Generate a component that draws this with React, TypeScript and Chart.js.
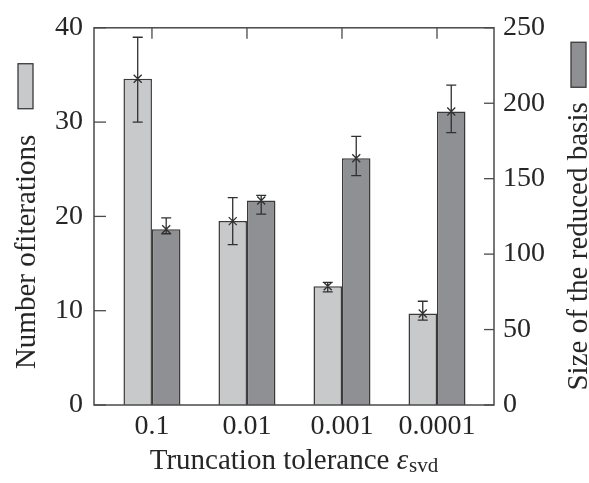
import React, { useEffect, useRef } from 'react';
import { Chart, registerables } from 'chart.js';

Chart.register(...registerables);

const categories = ['0.1', '0.01', '0.001', '0.0001'];
const iterMean = [34.6, 19.5, 12.6, 9.7];
const iterLow = [30.0, 17.0, 12.0, 9.0];
const iterHigh = [39.0, 22.0, 13.0, 11.0];
const basisMean = [116.5, 135.5, 163.5, 194.5];
const basisLow = [113.5, 126.5, 152.0, 180.5];
const basisHigh = [124.0, 139.0, 178.0, 212.0];

const leftTitle = 'Number ofiterations';
const rightTitle = 'Size of the reduced basis';
const xTitleMain = 'Truncation tolerance ';
const xTitleSym = 'ε';
const xTitleSub = 'svd';

const FONT = '"Liberation Serif", "Times New Roman", serif';
const TEXT = '#262626';
const AXIS = '#4a4a4a';
const LIGHT = '#c8c9cb';
const DARK = '#8f9094';
const EDGE = '#3a3a3a';
const FS = 28;
const TFS = 29;

const errors = [
  { low: iterLow, high: iterHigh },
  { low: basisLow, high: basisHigh },
];

const decorPlugin = {
  id: 'decor',
  afterDatasetsDraw(chart: any) {
    const ctx = chart.ctx as CanvasRenderingContext2D;
    const ca = chart.chartArea;
    ctx.save();

    // frame
    ctx.strokeStyle = AXIS;
    ctx.lineWidth = 1.5;
    ctx.strokeRect(ca.left, ca.top, ca.right - ca.left, ca.bottom - ca.top);

    // inward ticks
    ctx.lineWidth = 1.3;
    const yL = chart.scales.y;
    yL.ticks.forEach((t: any) => {
      const y = yL.getPixelForValue(t.value);
      ctx.beginPath();
      ctx.moveTo(ca.left, y);
      ctx.lineTo(ca.left + 12, y);
      ctx.stroke();
    });
    const yR = chart.scales.y2;
    yR.ticks.forEach((t: any) => {
      const y = yR.getPixelForValue(t.value);
      ctx.beginPath();
      ctx.moveTo(ca.right, y);
      ctx.lineTo(ca.right - 10, y);
      ctx.stroke();
    });
    const xs = chart.scales.x;
    xs.ticks.forEach((t: any) => {
      const x = xs.getPixelForValue(t.value);
      ctx.beginPath();
      ctx.moveTo(x, ca.top);
      ctx.lineTo(x, ca.top + 11);
      ctx.stroke();
    });

    // error bars with x markers
    ctx.strokeStyle = '#303030';
    ctx.lineWidth = 1.3;
    chart.data.datasets.forEach((ds: any, d: number) => {
      const meta = chart.getDatasetMeta(d);
      const ys = chart.scales[meta.yAxisID];
      meta.data.forEach((bar: any, j: number) => {
        const x = bar.x;
        const yl = ys.getPixelForValue(errors[d].low[j]);
        const yh = ys.getPixelForValue(errors[d].high[j]);
        const ym = ys.getPixelForValue(ds.data[j].y);
        ctx.beginPath();
        ctx.moveTo(x, yl);
        ctx.lineTo(x, yh);
        ctx.moveTo(x - 5, yl);
        ctx.lineTo(x + 5, yl);
        ctx.moveTo(x - 5, yh);
        ctx.lineTo(x + 5, yh);
        ctx.moveTo(x - 4, ym - 4);
        ctx.lineTo(x + 4, ym + 4);
        ctx.moveTo(x - 4, ym + 4);
        ctx.lineTo(x + 4, ym - 4);
        ctx.stroke();
      });
    });

    // axis titles with legend keys
    const mid = (ca.top + ca.bottom) / 2;
    ctx.fillStyle = TEXT;
    ctx.font = `${TFS}px ${FONT}`;
    ctx.textBaseline = 'alphabetic';
    ctx.textAlign = 'left';

    // left
    {
      const w = ctx.measureText(leftTitle).width;
      const boxH = 45, gap = 26;
      const total = boxH + gap + w;
      const top = mid - total / 2;
      ctx.fillStyle = LIGHT;
      ctx.fillRect(18, top, 15, boxH);
      ctx.strokeStyle = EDGE;
      ctx.lineWidth = 1.3;
      ctx.strokeRect(18, top, 15, boxH);
      ctx.fillStyle = TEXT;
      ctx.save();
      ctx.translate(35, top + total);
      ctx.rotate(-Math.PI / 2);
      ctx.fillText(leftTitle, 0, 0);
      ctx.restore();
    }
    // right
    {
      const w = ctx.measureText(rightTitle).width;
      const boxH = 45, gap = 15;
      const total = boxH + gap + w;
      const top = mid - total / 2;
      ctx.fillStyle = DARK;
      ctx.fillRect(571, top, 15, boxH);
      ctx.strokeStyle = EDGE;
      ctx.lineWidth = 1.3;
      ctx.strokeRect(571, top, 15, boxH);
      ctx.fillStyle = TEXT;
      ctx.save();
      ctx.translate(587, top + total);
      ctx.rotate(-Math.PI / 2);
      ctx.fillText(rightTitle, 0, 0);
      ctx.restore();
    }
    // x title
    {
      const mainFont = `${TFS}px ${FONT}`;
      const symFont = `italic ${TFS}px ${FONT}`;
      const subFont = `${Math.round(TFS * 0.72)}px ${FONT}`;
      ctx.font = mainFont;
      const w1 = ctx.measureText(xTitleMain).width;
      ctx.font = symFont;
      const w2 = ctx.measureText(xTitleSym).width;
      ctx.font = subFont;
      const w3 = ctx.measureText(xTitleSub).width;
      const total = w1 + w2 + 1 + w3;
      const cx = (ca.left + ca.right) / 2;
      let x = cx - total / 2;
      const base = 469;
      ctx.fillStyle = TEXT;
      ctx.font = mainFont;
      ctx.fillText(xTitleMain, x, base);
      x += w1;
      ctx.font = symFont;
      ctx.fillText(xTitleSym, x, base);
      x += w2 + 1;
      ctx.font = subFont;
      ctx.fillText(xTitleSub, x, base + 3);
    }
    ctx.restore();
  },
};

export default function App() {
  const ref = useRef<HTMLCanvasElement>(null);
  useEffect(() => {
    document.body.style.margin = '0';
    document.body.style.overflow = 'hidden';
    const canvas = ref.current!;
    const tickFont = { family: FONT, size: FS };
    const chart = new Chart(canvas, {
      type: 'bar',
      data: {
        datasets: [
          {
            label: 'Number of iterations',
            data: categories.map((_, i) => ({ x: i, y: iterMean[i] })),
            yAxisID: 'y',
            backgroundColor: LIGHT,
            borderColor: EDGE,
            borderWidth: 1.5,
            categoryPercentage: 0.6,
            barPercentage: 1.0,
          },
          {
            label: 'Size of the reduced basis',
            data: categories.map((_, i) => ({ x: i, y: basisMean[i] })),
            yAxisID: 'y2',
            backgroundColor: DARK,
            borderColor: EDGE,
            borderWidth: 1.5,
            categoryPercentage: 0.6,
            barPercentage: 1.0,
          },
        ],
      } as any,
      options: {
        responsive: false,
        animation: false,
        devicePixelRatio: 1,
        layout: { padding: { top: 21, left: 0, right: 0, bottom: 0 } },
        plugins: { legend: { display: false }, tooltip: { enabled: false } },
        scales: {
          x: {
            type: 'linear',
            offset: false,
            min: -0.61,
            max: 3.6,
            afterBuildTicks: (s: any) => {
              s.ticks = categories.map((_, i) => ({ value: i }));
            },
            ticks: {
              callback: (v: any) => categories[v] ?? '',
              font: tickFont,
              color: TEXT,
              padding: 5,
              autoSkip: false,
              maxRotation: 0,
            },
            grid: { display: false, drawTicks: false, offset: false },
            border: { display: false },
            afterFit: (s: any) => {
              s.height = 78;
            },
          },
          y: {
            position: 'left',
            min: 0,
            max: 40,
            ticks: { stepSize: 10, font: tickFont, color: TEXT, padding: 11 },
            grid: { display: false, drawTicks: false },
            border: { display: false },
            afterFit: (s: any) => {
              s.width = 94;
            },
          },
          y2: {
            position: 'right',
            min: 0,
            max: 250,
            ticks: { stepSize: 50, font: tickFont, color: TEXT, padding: 9 },
            grid: { display: false, drawTicks: false },
            border: { display: false },
            afterFit: (s: any) => {
              s.width = 95;
            },
          },
        },
      } as any,
      plugins: [decorPlugin],
    });
    return () => chart.destroy();
  }, []);
  return (
    <div style={{ width: 589, height: 483 }}>
      <canvas ref={ref} width={589} height={483} />
    </div>
  );
}
